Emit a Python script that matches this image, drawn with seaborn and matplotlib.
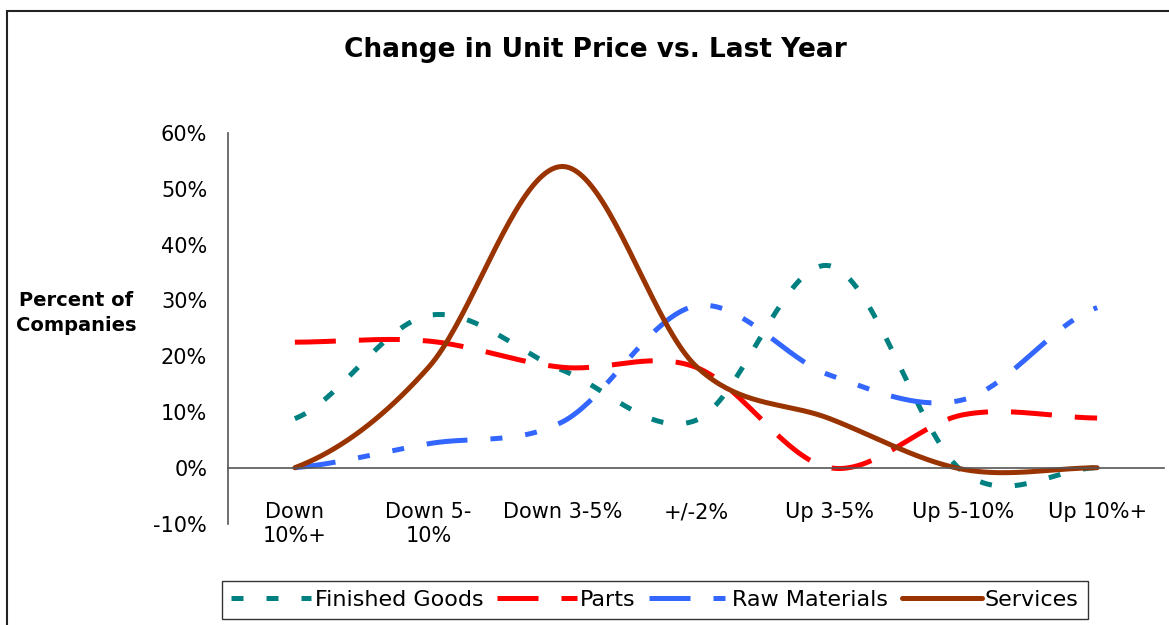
import numpy as np
import pandas as pd
import matplotlib
matplotlib.use("Agg")
import matplotlib.pyplot as plt
from matplotlib.patches import Rectangle
import seaborn as sns

categories = ["Down\n10%+", "Down 5-\n10%", "Down 3-5%", "+/-2%", "Up 3-5%", "Up 5-10%", "Up 10%+"]
finished_goods = [8.8, 27.3, 17.5, 8.5, 36.2, -0.8, 0.0]
parts = [22.5, 22.7, 18.0, 18.0, 0.0, 9.5, 8.9]
raw_materials = [0.0, 4.3, 8.2, 29.0, 16.6, 12.2, 28.7]
services = [0.0, 18.0, 54.0, 18.2, 8.8, -0.3, 0.0]

series_names = ["Finished Goods", "Parts", "Raw Materials", "Services"]
series_values = [finished_goods, parts, raw_materials, services]
colors = {"Finished Goods": "#008080", "Parts": "#FF0000",
          "Raw Materials": "#3366FF", "Services": "#993300"}
dashes = {"Finished Goods": (2.4, 4.6), "Parts": (8.2, 4.6),
          "Raw Materials": (8.2, 4.6, 2.4, 4.6, 2.4, 4.6), "Services": ""}


def smooth(vals, n=40):
    # Catmull-Rom style smoothing, like Excel's "smoothed line"
    p = np.r_[vals[0], vals, vals[-1]]
    xs, ys = [], []
    for i in range(len(vals) - 1):
        p0, p1 = p[i + 1], p[i + 2]
        m0 = (p[i + 2] - p[i]) / 2
        m1 = (p[i + 3] - p[i + 1]) / 2
        for t in np.linspace(0, 1, n, endpoint=False):
            h00 = 2 * t**3 - 3 * t**2 + 1
            h10 = t**3 - 2 * t**2 + t
            h01 = -2 * t**3 + 3 * t**2
            h11 = t**3 - t**2
            xs.append(i + t)
            ys.append(h00 * p0 + h10 * m0 + h01 * p1 + h11 * m1)
    xs.append(len(vals) - 1)
    ys.append(vals[-1])
    return xs, ys


rows = []
for name, vals in zip(series_names, series_values):
    xs, ys = smooth(vals)
    rows.append(pd.DataFrame({"x": xs, "y": ys, "series": name}))
df = pd.concat(rows, ignore_index=True)

sns.set_style("white")
plt.rcParams["font.family"] = ["DejaVu Sans"]
plt.rcParams["text.color"] = "black"
plt.rcParams["xtick.color"] = "black"
plt.rcParams["ytick.color"] = "black"

fig = plt.figure(figsize=(11.69, 6.25), dpi=100)
ax = fig.add_axes([228 / 1169, 1 - 523.5 / 625, (1164 - 228) / 1169, (523.5 - 133) / 625])

sns.lineplot(data=df, x="x", y="y", hue="series", style="series",
             palette=colors, dashes=dashes, linewidth=3.6,
             estimator=None, sort=False, legend=False, ax=ax)
for line in ax.get_lines():
    line.set_solid_capstyle("round")

ax.set_xlim(-0.5, len(categories) - 0.5)
ax.set_ylim(-10, 60)
ax.set_xlabel("")
ax.set_ylabel("")

# y axis
ax.set_yticks(range(-10, 61, 10))
ax.set_yticklabels([f"{v}%" for v in range(-10, 61, 10)], fontsize=15)
ax.tick_params(axis="y", length=0, pad=15, labelcolor="black")

# category axis crossing at 0
for s in ["top", "right"]:
    ax.spines[s].set_visible(False)
ax.spines["bottom"].set_position(("data", 0))
for s in ["left", "bottom"]:
    ax.spines[s].set_color("#555555")
    ax.spines[s].set_linewidth(1.2)
ax.set_xticks(np.arange(-0.5, len(categories), 1.0))
ax.set_xticklabels([])
ax.tick_params(axis="x", which="major", length=7, width=1.2, color="#555555", direction="out")
ax.set_xticks(range(len(categories)), minor=True)
ax.set_xticklabels(categories, minor=True, fontsize=15, va="top")
ax.tick_params(axis="x", which="minor", length=0, pad=25, labelcolor="black")

fig.text(0.509, 0.92, "Change in Unit Price vs. Last Year", color="black",
         fontsize=19, fontweight="bold", ha="center", va="center")
fig.text(76 / 1169, 1 - 313 / 625, "Percent of\nCompanies", fontsize=14, color="black",
         fontweight="bold", ha="center", va="center", linespacing=1.35)

leg = fig.legend(handles=ax.get_lines()[:4], labels=series_names, loc="center",
                 bbox_to_anchor=(655 / 1169, 1 - 600 / 625), ncol=4, fontsize=16,
                 frameon=True, fancybox=False, edgecolor="#333333", framealpha=1,
                 handlelength=3.6, handletextpad=0.15, columnspacing=0.6,
                 borderpad=0.4, borderaxespad=0)
for t in leg.get_texts():
    t.set_color("black")

# outer chart border
fig.patches.append(Rectangle((7 / 1169, -0.1), 1.2, 1 - 11 / 625 + 0.1,
                             transform=fig.transFigure, fill=False,
                             edgecolor="#222222", linewidth=1.5))

fig.savefig("out.png", dpi=100)
